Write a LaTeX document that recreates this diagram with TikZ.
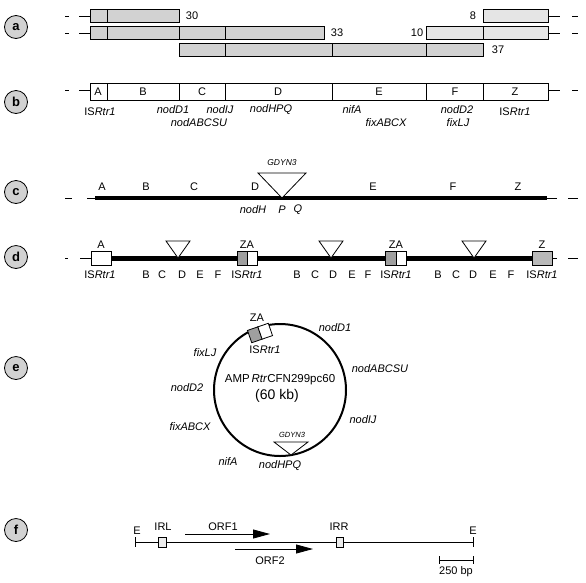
\documentclass[tikz,border=0pt]{standalone}
\usepackage{fontspec}
\setmainfont{Liberation Sans}
\usetikzlibrary{calc,shapes,arrows.meta}

\tikzset{
  panel/.style={circle,draw,thick,fill=gray!35,minimum size=23pt,inner sep=0pt,font=\bfseries\fontsize{13}{14}\selectfont},
  clone/.style={draw,thick,fill=gray!35},
  clonelt/.style={draw,thick,fill=gray!20},
  gene/.style={font=\itshape\fontsize{11}{12}\selectfont,inner sep=0pt},
  seg/.style={inner sep=0pt},
  insert/.style={draw,thick,fill=white},
  isbox/.style={draw,thick,fill=white},
  isdark/.style={draw,thick,fill=gray!75},
}
\newcommand{\isrtr}{IS\textit{Rtr1}}

\begin{document}
\begin{tikzpicture}[x=1pt,y=-1pt,font=\fontsize{11}{12}\selectfont]
\useasboundingbox (0,0) rectangle (586,582);

% panel labels
\foreach \y/\l in {27/a,102/b,192/c,257/d,368/e,530/f}
  \node[panel] (p\l) at (16,\y) {\l};

% (a) overlapping clones
\foreach \xa/\xb/\ya in {90/179/9, 90/324/26, 179/483/43}
  \draw[clone] (\xa,\ya) rectangle (\xb,\ya+13);
\foreach \xa/\xb/\ya in {483/548/9, 426/548/26}
  \draw[clonelt] (\xa,\ya) rectangle (\xb,\ya+13);
\foreach \x/\ya in {107/9, 107/26, 179/26, 225/26, 225/43, 332/43, 426/43, 483/26}
  \draw[thick] (\x,\ya) -- (\x,\ya+13);
\foreach \y in {16,33}{
  \draw[thick] (65,\y) -- (69,\y);
  \draw[thick] (79,\y) -- (90,\y);
  \draw[thick] (548,\y) -- (560,\y);
  \draw[thick] (572,\y) -- (578,\y);
}
\node (n30) at (192,16) {30};
\node (n33) at (337,33) {33};
\node (n37) at (498,50) {37};
\node (n8) at (473,16) {8};
\node (n10) at (417,33) {10};

% (b) segment map
\draw[thick] (90,83) rectangle (548,100);
\foreach \x in {107,179,225,332,426,483}
  \draw[thick] (\x,83) -- (\x,100);
\foreach \x/\t in {98/A,143/B,202/C,278/D,379/E,455/F,515/Z}
  \node[seg] (b\t) at (\x,92) {\t};
\draw[thick] (65,90) -- (69,90);
\draw[thick] (79,90) -- (90,90);
\draw[thick] (548,90) -- (560,90);
\draw[thick] (572,90) -- (578,90);
\node[seg] (bis1) at (100,112) {\isrtr};
\node[gene] (bD1) at (173,110) {nodD1};
\node[gene] (bABC) at (199,123) {nodABCSU};
\node[gene] (bIJ) at (220,110) {nodIJ};
\node[gene] (bHPQ) at (271,110) {nodHPQ};
\node[gene] (bnif) at (352,110) {nifA};
\node[gene] (bfix) at (386,123) {fixABCX};
\node[gene] (bD2) at (457,110) {nodD2};
\node[gene] (bLJ) at (458,123) {fixLJ};
\node[seg] (bis2) at (515,112) {\isrtr};

% (c) insertion
\draw[line width=4pt] (95,198) -- (547,198);
\draw[thick] (87,198) -- (95,198);
\draw[thick] (65,198) -- (72,198);
\draw[thick] (547,198) -- (557,198);
\draw[thick] (568,198) -- (578,198);
\foreach \x/\t in {102/A,146/B,194/C,255/D,373/E,453/F,518/Z}
  \node[seg] (c\t) at (\x,187) {\t};
\draw[insert] (258,173) -- (306,173) -- (282,198) -- cycle;
\node[gene,font=\itshape\fontsize{8.5}{10}\selectfont] (cgd) at (282,163) {GDYN3};
\node[gene] (cH) at (253,210) {nodH};
\node[gene] (cP) at (282,210) {P};
\node[gene] (cQ) at (298,210) {Q};

% (d) amplified tandem
\draw[thick] (65,258) -- (68,258);
\draw[thick] (80,258) -- (91,258);
\draw[line width=5pt] (111,258) -- (532,258);
\draw[thick] (552,258) -- (557,258);
\draw[thick] (568,258) -- (578,258);
\draw[isbox] (91,251) rectangle (111,265);
\node[seg] (dA) at (101,245) {A};
\node[seg] (dis0) at (100,275) {\isrtr};
\foreach \xa/\xm/\xb/\n in {237/247/257/1, 385/396/406/2}{
  \draw[isdark] (\xa,251) rectangle (\xm,265);
  \draw[isbox] (\xm,251) rectangle (\xb,265);
  \node[seg] (dZA\n) at (\xm,245) {ZA};
  \node[seg] (dis\n) at (\xm,275) {\isrtr};
}
\draw[thick,fill=gray!55] (532,251) rectangle (552,265);
\node[seg] (dZ) at (542,245) {Z};
\node[seg] (dis3) at (542,275) {\isrtr};
\foreach \x in {178,331,474}
  \draw[insert] (\x-12,241) -- (\x+12,241) -- (\x,258) -- cycle;
\foreach \xb/\xc/\xd/\xe/\xf/\n in {146/162/182/200/218/1, 297/315/333/352/368/2, 438/456/473/493/511/3}{
  \node[seg] (dB\n) at (\xb,275) {B};
  \node[seg] (dC\n) at (\xc,275) {C};
  \node[seg] (dD\n) at (\xd,275) {D};
  \node[seg] (dE\n) at (\xe,275) {E};
  \node[seg] (dF\n) at (\xf,275) {F};
}

% (e) amplicon circle
\draw[line width=2pt] (280,390) circle (66);
\begin{scope}[shift={(260,333)},rotate=19]
  \draw[isdark] (-11,-6.5) rectangle (0,6.5);
  \draw[isbox] (0,-6.5) rectangle (11,6.5);
\end{scope}
\node[seg] (eZA) at (257,318) {ZA};
\node[seg] (eis) at (265,350) {\isrtr};
\draw[insert] (274,442) -- (308,442) -- (291,455) -- cycle;
\node[gene,font=\itshape\fontsize{7.5}{9}\selectfont] (egd) at (292,435) {GDYN3};
\node[seg,font=\fontsize{11.5}{13}\selectfont] (ename) at (280,380) {AMP\,\textit{Rtr}CFN299pc60};
\node[seg,font=\fontsize{14}{16}\selectfont] (esize) at (277,396) {(60 kb)};
\node[gene] (eD1) at (335,328) {nodD1};
\node[gene] (eABC) at (380,369) {nodABCSU};
\node[gene] (eIJ) at (363,420) {nodIJ};
\node[gene] (eHPQ) at (280,466) {nodHPQ};
\node[gene] (enif) at (228,462) {nifA};
\node[gene] (efix) at (190,427) {fixABCX};
\node[gene] (eD2) at (187,388) {nodD2};
\node[gene] (eLJ) at (205,353) {fixLJ};

% (f) ISRtr1 element
\draw[semithick] (135,542) -- (473,542);
\draw[semithick] (135,537) -- (135,547);
\draw[semithick] (473,537) -- (473,547);
\draw[semithick,fill=gray!15] (158,537) rectangle (166,547);
\draw[semithick,fill=gray!15] (336,537) rectangle (343,547);
\node[seg] (fE1) at (137,531) {E};
\node[seg] (fE2) at (473,531) {E};
\node[seg] (fIRL) at (163,527) {IRL};
\node[seg] (fIRR) at (339,527) {IRR};
\draw[thick,-{Triangle[length=17pt,width=9pt]}] (185,534) -- (270,534);
\draw[thick,-{Triangle[length=17pt,width=9pt]}] (235,549) -- (313,549);
\node[seg] (forf1) at (223,527) {ORF1};
\node[seg] (forf2) at (270,561) {ORF2};
\draw[semithick] (439,560) -- (473,560);
\draw[semithick] (439,556) -- (439,564);
\draw[semithick] (473,556) -- (473,564);
\node[seg] (fbp) at (456,572) {250 bp};
\end{tikzpicture}
\end{document}
